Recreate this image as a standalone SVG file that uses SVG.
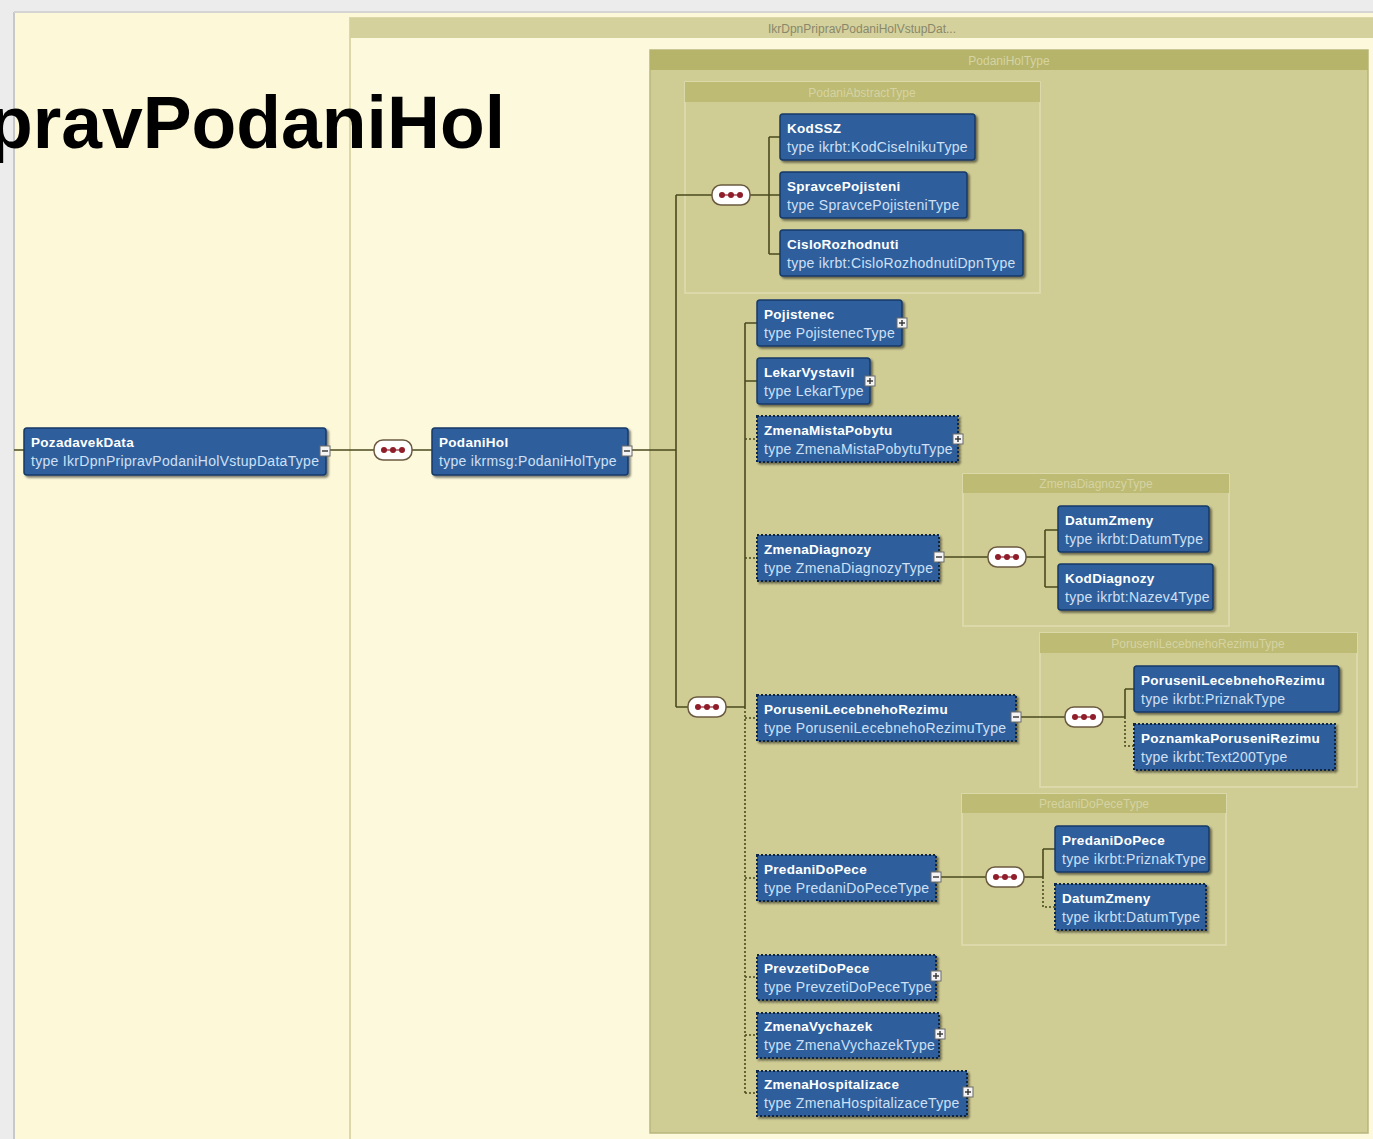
<svg xmlns="http://www.w3.org/2000/svg" width="1373" height="1139" viewBox="0 0 1373 1139">
<defs>
<style>
.nb{fill:#2d5e9c;stroke:#173a68;stroke-width:1.5}
.opt{fill:#2d5e9c;stroke:#0f2747;stroke-width:2;stroke-dasharray:2 2}
.nm{font-family:"Liberation Sans",Arial,sans-serif;font-size:13.5px;letter-spacing:0.3px;font-weight:bold;fill:#ffffff}
.tp{font-family:"Liberation Sans",Arial,sans-serif;font-size:14px;letter-spacing:0.3px;fill:#cfe0f7}
.hd{font-family:"Liberation Sans",Arial,sans-serif;font-size:12px;text-anchor:middle}
.cn{fill:none;stroke:#4b4a1e;stroke-width:1.6}
.cd{fill:none;stroke:#4b4a1e;stroke-width:1.6;stroke-dasharray:2 2}
.pm{fill:#f4f4f4;stroke:#6b6b6b;stroke-width:1}
.sg{stroke:#333;stroke-width:1.4}
.cb{fill:#ffffff;stroke:#6b5a40;stroke-width:1.5}
.cdot{fill:#8f1d2a}
</style>
<filter id="sh" x="-5%" y="-10%" width="115%" height="130%">
<feDropShadow dx="2" dy="2" stdDeviation="1.2" flood-color="#000" flood-opacity="0.5"/>
</filter>
<g id="comp">
<rect class="cb" x="-19" y="-10" width="38" height="20" rx="9"/>
<line x1="-11" y1="0" x2="11" y2="0" stroke="#8f1d2a" stroke-width="1.2"/>
<circle class="cdot" cx="-9" cy="0" r="3"/>
<circle class="cdot" cx="0" cy="0" r="3"/>
<circle class="cdot" cx="9" cy="0" r="3"/>
</g>
<g id="minus"><rect class="pm" x="-5" y="-5" width="10" height="10"/><line class="sg" x1="-3" y1="0" x2="3" y2="0"/></g>
<g id="plus"><rect class="pm" x="-5" y="-5" width="10" height="10"/><line class="sg" x1="-3" y1="0" x2="3" y2="0"/><line class="sg" x1="0" y1="-3" x2="0" y2="3"/></g>
</defs>

<!-- background -->
<rect x="0" y="0" width="1373" height="1139" fill="#ececec"/>
<rect x="14" y="12" width="1359" height="1127" fill="#fdf8d8"/>
<line x1="14" y1="12" x2="14" y2="1139" stroke="#c8c8c8" stroke-width="2"/>
<line x1="14" y1="12" x2="1373" y2="12" stroke="#d4d4d4" stroke-width="2"/>

<!-- outer box -->
<g id="box-outer">
<rect x="350" y="18" width="1030" height="1130" fill="#fdf9dc" stroke="#dcd8aa" stroke-width="2"/>
<rect x="350" y="18" width="1030" height="20" fill="#d5d19d"/>
<text class="hd" x="862" y="33" fill="#8a886a">IkrDpnPripravPodaniHolVstupDat...</text>
</g>

<!-- PodaniHolType box -->
<g id="box-podanihol">
<rect x="650" y="50" width="718" height="1083" fill="#cfcc94" stroke="#b9b67c" stroke-width="1.5"/>
<rect x="650" y="50" width="718" height="20" fill="#b5b46a"/>
<text class="hd" x="1009" y="65" fill="#d6d3a2">PodaniHolType</text>
</g>

<g id="box-abstract">
<rect x="685" y="82" width="355" height="211" fill="#cfcc94" stroke="#e0ddb0" stroke-width="1.5"/>
<rect x="685" y="82" width="355" height="20" fill="#bdbb74"/>
<text class="hd" x="862" y="97" fill="#d6d3a2">PodaniAbstractType</text>
</g>

<g id="box-zmenadiag">
<rect x="963" y="474" width="266" height="152" fill="#cfcc94" stroke="#e0ddb0" stroke-width="1.5"/>
<rect x="963" y="474" width="266" height="19" fill="#bdbb74"/>
<text class="hd" x="1096" y="488" fill="#d6d3a2">ZmenaDiagnozyType</text>
</g>

<g id="box-poruseni">
<rect x="1040" y="633" width="317" height="154" fill="#cfcc94" stroke="#e0ddb0" stroke-width="1.5"/>
<rect x="1040" y="633" width="317" height="20" fill="#bdbb74"/>
<text class="hd" x="1198" y="648" fill="#d6d3a2">PoruseniLecebnehoRezimuType</text>
</g>

<g id="box-predani">
<rect x="962" y="794" width="264" height="151" fill="#cfcc94" stroke="#e0ddb0" stroke-width="1.5"/>
<rect x="962" y="794" width="264" height="19" fill="#bdbb74"/>
<text class="hd" x="1094" y="808" fill="#d6d3a2">PredaniDoPeceType</text>
</g>

<!-- connectors -->
<g id="connectors">
<path class="cn" d="M14,450 H24 M330,450 H374 M412,450 H432 M632,450 H676 M676,195 V707 M676,195 H712 M750,195 H769 M769,137 V254 M769,137 H780 M769,195 H780 M769,254 H780 M676,707 H688 M726,707 H745 M745,323 V707 M745,323 H757 M745,381 H757"/>
<path class="cd" d="M745,707 V1093 M745,439 H757 M745,558 H757 M745,718 H757 M745,878 H757 M745,977 H757 M745,1035 H757 M745,1093 H757"/>
<path class="cn" d="M944,557 H988 M1026,557 H1045 M1045,530 V587 M1045,530 H1058 M1045,587 H1058"/>
<path class="cn" d="M1021,717 H1065 M1103,717 H1125 M1125,689 V717 M1125,689 H1134"/>
<path class="cd" d="M1125,717 V746 H1134"/>
<path class="cn" d="M941,877 H986 M1024,877 H1043 M1043,849 V877 M1043,849 H1055"/>
<path class="cd" d="M1043,877 V907 H1055"/>
</g>

<!-- compositors -->
<g id="seq1"><use href="#comp" x="393" y="450"/></g>
<g id="seq2"><use href="#comp" x="731" y="195"/></g>
<g id="seq3"><use href="#comp" x="707" y="707"/></g>
<g id="seq4"><use href="#comp" x="1007" y="557"/></g>
<g id="seq5"><use href="#comp" x="1084" y="717"/></g>
<g id="seq6"><use href="#comp" x="1005" y="877"/></g>

<!-- nodes -->
<g id="n-PozadavekData"><rect class="nb" filter="url(#sh)" x="24" y="428" width="302" height="47" rx="3"/><text class="nm" x="31" y="447">PozadavekData</text><text class="tp" x="31" y="466">type IkrDpnPripravPodaniHolVstupDataType</text><use href="#minus" x="325" y="451"/></g>
<g id="n-PodaniHol"><rect class="nb" filter="url(#sh)" x="432" y="428" width="196" height="47" rx="3"/><text class="nm" x="439" y="447">PodaniHol</text><text class="tp" x="439" y="466">type ikrmsg:PodaniHolType</text><use href="#minus" x="627" y="451"/></g>
<g id="n-KodSSZ"><rect class="nb" filter="url(#sh)" x="780" y="114" width="195" height="46" rx="3"/><text class="nm" x="787" y="133">KodSSZ</text><text class="tp" x="787" y="152">type ikrbt:KodCiselnikuType</text></g>
<g id="n-SpravcePojisteni"><rect class="nb" filter="url(#sh)" x="780" y="172" width="187" height="46" rx="3"/><text class="nm" x="787" y="191">SpravcePojisteni</text><text class="tp" x="787" y="210">type SpravcePojisteniType</text></g>
<g id="n-CisloRozhodnuti"><rect class="nb" filter="url(#sh)" x="780" y="230" width="243" height="46" rx="3"/><text class="nm" x="787" y="249">CisloRozhodnuti</text><text class="tp" x="787" y="268">type ikrbt:CisloRozhodnutiDpnType</text></g>
<g id="n-Pojistenec"><rect class="nb" filter="url(#sh)" x="757" y="300" width="145" height="46" rx="3"/><text class="nm" x="764" y="319">Pojistenec</text><text class="tp" x="764" y="338">type PojistenecType</text><use href="#plus" x="902" y="323"/></g>
<g id="n-LekarVystavil"><rect class="nb" filter="url(#sh)" x="757" y="358" width="113" height="46" rx="3"/><text class="nm" x="764" y="377">LekarVystavil</text><text class="tp" x="764" y="396">type LekarType</text><use href="#plus" x="870" y="381"/></g>
<g id="n-ZmenaMistaPobytu"><rect class="opt" filter="url(#sh)" x="757" y="416" width="201" height="46"/><text class="nm" x="764" y="435">ZmenaMistaPobytu</text><text class="tp" x="764" y="454">type ZmenaMistaPobytuType</text><use href="#plus" x="958" y="439"/></g>
<g id="n-ZmenaDiagnozy"><rect class="opt" filter="url(#sh)" x="757" y="535" width="182" height="46"/><text class="nm" x="764" y="554">ZmenaDiagnozy</text><text class="tp" x="764" y="573">type ZmenaDiagnozyType</text><use href="#minus" x="939" y="557"/></g>
<g id="n-DatumZmeny"><rect class="nb" filter="url(#sh)" x="1058" y="506" width="151" height="46" rx="3"/><text class="nm" x="1065" y="525">DatumZmeny</text><text class="tp" x="1065" y="544">type ikrbt:DatumType</text></g>
<g id="n-KodDiagnozy"><rect class="nb" filter="url(#sh)" x="1058" y="564" width="155" height="46" rx="3"/><text class="nm" x="1065" y="583">KodDiagnozy</text><text class="tp" x="1065" y="602">type ikrbt:Nazev4Type</text></g>
<g id="n-PoruseniLecebnehoRezimu"><rect class="opt" filter="url(#sh)" x="757" y="695" width="259" height="46"/><text class="nm" x="764" y="714">PoruseniLecebnehoRezimu</text><text class="tp" x="764" y="733">type PoruseniLecebnehoRezimuType</text><use href="#minus" x="1016" y="717"/></g>
<g id="n-PoruseniLecebnehoRezimu-inner"><rect class="nb" filter="url(#sh)" x="1134" y="666" width="205" height="46" rx="3"/><text class="nm" x="1141" y="685">PoruseniLecebnehoRezimu</text><text class="tp" x="1141" y="704">type ikrbt:PriznakType</text></g>
<g id="n-PoznamkaPoruseniRezimu"><rect class="opt" filter="url(#sh)" x="1134" y="724" width="201" height="46"/><text class="nm" x="1141" y="743">PoznamkaPoruseniRezimu</text><text class="tp" x="1141" y="762">type ikrbt:Text200Type</text></g>
<g id="n-PredaniDoPece"><rect class="opt" filter="url(#sh)" x="757" y="855" width="179" height="46"/><text class="nm" x="764" y="874">PredaniDoPece</text><text class="tp" x="764" y="893">type PredaniDoPeceType</text><use href="#minus" x="936" y="877"/></g>
<g id="n-PredaniDoPece-inner"><rect class="nb" filter="url(#sh)" x="1055" y="826" width="154" height="46" rx="3"/><text class="nm" x="1062" y="845">PredaniDoPece</text><text class="tp" x="1062" y="864">type ikrbt:PriznakType</text></g>
<g id="n-DatumZmeny-2"><rect class="opt" filter="url(#sh)" x="1055" y="884" width="151" height="46"/><text class="nm" x="1062" y="903">DatumZmeny</text><text class="tp" x="1062" y="922">type ikrbt:DatumType</text></g>
<g id="n-PrevzetiDoPece"><rect class="opt" filter="url(#sh)" x="757" y="955" width="179" height="45"/><text class="nm" x="764" y="973">PrevzetiDoPece</text><text class="tp" x="764" y="992">type PrevzetiDoPeceType</text><use href="#plus" x="936" y="976"/></g>
<g id="n-ZmenaVychazek"><rect class="opt" filter="url(#sh)" x="757" y="1013" width="182" height="45"/><text class="nm" x="764" y="1031">ZmenaVychazek</text><text class="tp" x="764" y="1050">type ZmenaVychazekType</text><use href="#plus" x="940" y="1034"/></g>
<g id="n-ZmenaHospitalizace"><rect class="opt" filter="url(#sh)" x="757" y="1071" width="210" height="45"/><text class="nm" x="764" y="1089">ZmenaHospitalizace</text><text class="tp" x="764" y="1108">type ZmenaHospitalizaceType</text><use href="#plus" x="968" y="1092"/></g>

<!-- title -->
<text x="-12" y="148" font-family="'Liberation Sans',Arial,sans-serif" font-size="74" font-weight="bold" fill="#000" textLength="517" lengthAdjust="spacingAndGlyphs">pravPodaniHol</text>
</svg>
